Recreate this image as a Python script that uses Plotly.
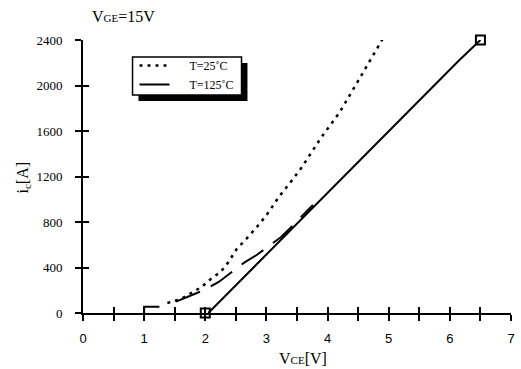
import plotly.graph_objects as go

# ---- data ----
x_25 = [1.38, 1.60, 1.77, 1.94, 2.11, 2.25, 2.38, 2.51, 2.72, 2.90, 3.06, 3.19, 3.38,
        3.57, 3.89, 4.20, 4.49, 4.76, 4.91]
y_25 = [88, 123, 176, 229, 308, 360, 448, 560, 680, 791, 905, 1011, 1140,
        1275, 1538, 1767, 2031, 2286, 2418]

x_125 = [2.05, 6.14, 6.5]
y_125 = [0, 2215, 2400]

x_dash = [1.52, 1.98, 2.22, 2.63, 2.84, 3.24, 3.44, 3.76]
y_dash = [100, 202, 273, 440, 510, 668, 774, 949]

x_step = [1.0, 1.0, 1.25]
y_step = [0, 55, 55]

x_mark = [2.0, 6.5]
y_mark = [0, 2400]

x_tickvals = [0, 0.5, 1, 1.5, 2, 2.5, 3, 3.5, 4, 4.5, 5, 5.5, 6, 6.5, 7]
x_ticktext = ["0", "", "1", "", "2", "", "3", "", "4", "", "5", "", "6", "", "7"]
y_tickvals = [0, 400, 800, 1200, 1600, 2000, 2400]
y_ticktext = ["0", "400", "800", "1200", "1600", "2000", "2400"]

L, R, T, B = 83, 6, 40, 56
W, H = 521, 369
pw, ph = W - L - R, H - T - B

def px_x(p):
    return (p - L) / pw

def px_y(p):
    return (H - B - p) / ph

NB = "\u00a0" * 5

fig = go.Figure()
fig.add_trace(go.Scatter(x=x_25, y=y_25, mode="lines", name=NB + "T=25˚C",
                         line=dict(color="black", width=2.5, dash="3px,5px"),
                         cliponaxis=False))
fig.add_trace(go.Scatter(x=x_125, y=y_125, mode="lines", name=NB + "T=125˚C",
                         line=dict(color="black", width=2), cliponaxis=False))
fig.add_trace(go.Scatter(x=x_dash, y=y_dash, mode="lines", showlegend=False,
                         line=dict(color="black", width=2, dash="26px,12px"),
                         cliponaxis=False))
fig.add_trace(go.Scatter(x=x_step, y=y_step, mode="lines", showlegend=False,
                         line=dict(color="black", width=2), cliponaxis=False))
fig.add_trace(go.Scatter(x=x_mark, y=y_mark, mode="markers", showlegend=False,
                         marker=dict(symbol="square-open", size=9, color="black",
                                     line=dict(width=2, color="black")),
                         cliponaxis=False))
# helper trace for the inside-tick overlay axes
fig.add_trace(go.Scatter(x=[None], y=[None], xaxis="x2", yaxis="y2",
                         showlegend=False, hoverinfo="skip"))

axis_common = dict(showgrid=False, zeroline=False, showline=True,
                   linecolor="black", linewidth=2, tickcolor="black",
                   tickwidth=2, ticklen=6, tickmode="array")

fig.update_layout(
    width=W, height=H,
    margin=dict(l=L, r=R, t=T, b=B),
    paper_bgcolor="white", plot_bgcolor="white",
    xaxis=dict(range=[0, 7], tickvals=x_tickvals, ticktext=x_ticktext,
               ticks="outside", ticklabelstandoff=6,
               tickfont=dict(family="Liberation Sans", size=13, color="black"),
               **axis_common),
    yaxis=dict(range=[0, 2400], tickvals=y_tickvals, ticktext=y_ticktext,
               ticks="outside", ticklabelstandoff=10,
               tickfont=dict(family="Liberation Serif", size=13, color="black"),
               **axis_common),
    xaxis2=dict(range=[0, 7], tickvals=x_tickvals, ticks="inside",
                overlaying="x", anchor="y2", showticklabels=False,
                **axis_common),
    yaxis2=dict(range=[0, 2400], tickvals=y_tickvals, ticks="inside",
                overlaying="y", anchor="x2", showticklabels=False,
                **axis_common),
    legend=dict(x=px_x(135), y=px_y(51), xanchor="left", yanchor="top",
                bgcolor="rgba(0,0,0,0)", borderwidth=0,
                font=dict(family="Liberation Serif", size=12, color="black"),
                tracegroupgap=0, itemwidth=30),
    showlegend=True,
)

# legend box with drop shadow
fig.add_shape(type="rect", xref="paper", yref="paper",
              x0=px_x(139), x1=px_x(249), y0=px_y(101), y1=px_y(63),
              fillcolor="black", line=dict(width=0), layer="above")
fig.add_shape(type="rect", xref="paper", yref="paper",
              x0=px_x(133), x1=px_x(243), y0=px_y(95), y1=px_y(57),
              fillcolor="white", line=dict(width=1.5, color="black"), layer="above")

fig.add_annotation(text="V<span style='font-size:11px'>GE</span>=15V",
                   xref="paper", yref="paper", x=px_x(90), y=px_y(16),
                   xanchor="left", yanchor="middle", showarrow=False,
                   font=dict(family="Liberation Serif", size=16, color="black"))
fig.add_annotation(text="V<span style='font-size:11px'>CE</span>[V]",
                   xref="paper", yref="paper", x=px_x(305), y=px_y(358),
                   xanchor="center", yanchor="middle", showarrow=False,
                   font=dict(family="Liberation Serif", size=16, color="black"))
fig.add_annotation(text="i<sub>c</sub>[A]",
                   xref="paper", yref="paper", x=px_x(22), y=px_y(178),
                   xanchor="center", yanchor="middle", showarrow=False,
                   textangle=-90,
                   font=dict(family="Liberation Serif", size=16, color="black"))

fig.write_html("out.html")
